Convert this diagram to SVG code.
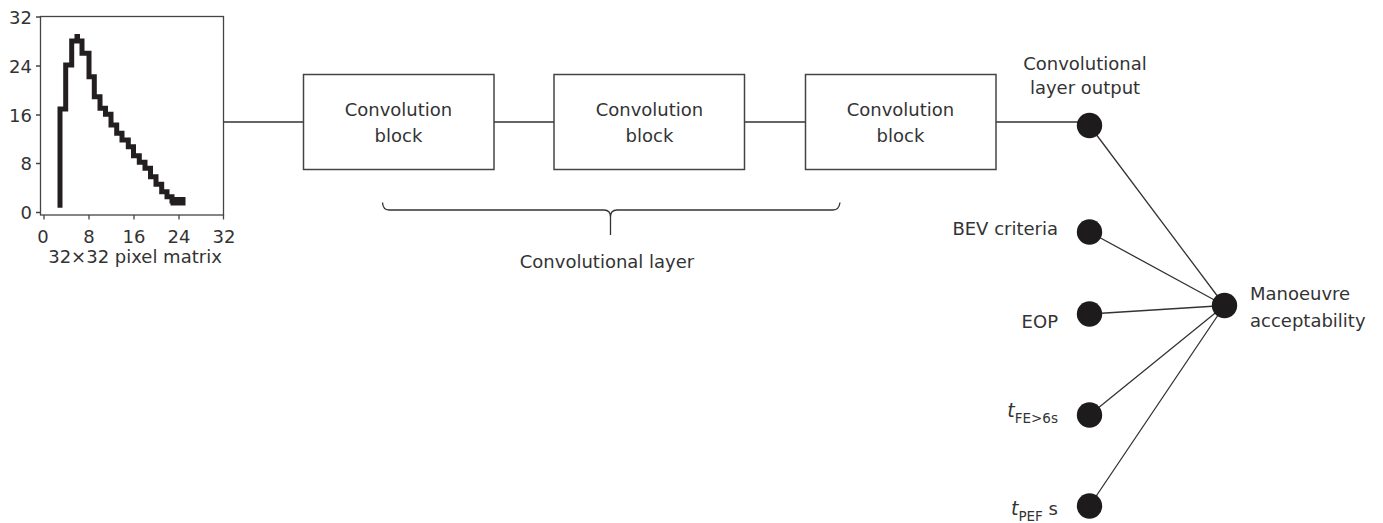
<svg xmlns="http://www.w3.org/2000/svg" width="1383" height="523" viewBox="0 0 1383 523">
<style>
text{font-family:"DejaVu Sans","Liberation Sans",sans-serif;font-size:18px;fill:#333}
.m{text-anchor:middle}
.e{text-anchor:end}
.ax{fill:none;stroke:#444;stroke-width:1.3}
.box{fill:#fff;stroke:#444;stroke-width:1.5}
.ln{fill:none;stroke:#333;stroke-width:1.3}
.nd{fill:#1e1b1c}
.sub{font-size:13.5px}
</style>
<g id="plot">
<rect class="ax" x="40.5" y="16.5" width="183" height="198.5"/>
<path class="ax" d="M36,212.5H40.5M36,163.5H40.5M36,115H40.5M36,66H40.5M36,17H40.5M44,215V219.5M89,215V219.5M134,215V219.5M179,215V219.5M223.5,215V219.5"/>
<text class="e" x="32" y="219">0</text>
<text class="e" x="32" y="170">8</text>
<text class="e" x="32" y="121.5">16</text>
<text class="e" x="32" y="72.5">24</text>
<text class="e" x="32" y="23.5">32</text>
<text class="m" x="43" y="243">0</text>
<text class="m" x="89" y="243">8</text>
<text class="m" x="134" y="243">16</text>
<text class="m" x="179" y="243">24</text>
<text class="m" x="224" y="243">32</text>
<text class="m" x="135" y="263">32×32 pixel matrix</text>
<path fill="none" stroke="#231f20" stroke-width="5" stroke-linejoin="miter" d="M60,207.7V109H65.7V65H71.7V41H82V53.3H89V76.7H94.3V96.7H100V108.3H105.5V114.3H111V125H116.7V133.3H122V140H128.3V146.7H133.5V155.7H139.3V162.3H145V168.3H150.5V176.7H156V184.3H161.7V191.7H167V196.7H172V201H184"/>
<rect x="74.5" y="34" width="5.5" height="6" fill="#231f20"/>
<rect x="170.5" y="197" width="15" height="8.5" fill="#231f20"/>
</g>
<g id="connectors">
<path class="ln" d="M223.5,122H303.5M494,122H554M745,122H805.5M996,122H1089"/>
<path class="ln" d="M1089.5,125.5L1224.5,305.5M1089.5,232L1224.5,305.5M1089.5,314L1224.5,305.5M1089.5,415L1224.5,305.5M1089.5,506L1224.5,305.5"/>
</g>
<g id="block1">
<rect class="box" x="303.5" y="74.5" width="190.5" height="95"/>
<text class="m" x="398.5" y="116">Convolution</text>
<text class="m" x="398.5" y="141.5">block</text>
</g>
<g id="block2">
<rect class="box" x="554" y="74.5" width="190.5" height="95"/>
<text class="m" x="649.5" y="116">Convolution</text>
<text class="m" x="649.5" y="141.5">block</text>
</g>
<g id="block3">
<rect class="box" x="805.5" y="74.5" width="190.5" height="95"/>
<text class="m" x="900.5" y="116">Convolution</text>
<text class="m" x="900.5" y="141.5">block</text>
</g>
<g id="brace">
<path class="ln" d="M382.5,202.5Q383,210 389,210H604Q610.5,210 610.5,217V235M610.5,217Q610.5,210 617,210H833Q839,210 840,202.5"/>
<text class="m" x="607" y="268">Convolutional layer</text>
</g>
<g id="node-conv-output">
<circle class="nd" cx="1089.5" cy="125.5" r="12.7"/>
<text class="m" x="1085" y="70">Convolutional</text>
<text class="m" x="1085" y="94">layer output</text>
</g>
<g id="node-bev">
<circle class="nd" cx="1089.5" cy="232" r="12.7"/>
<text class="e" x="1058" y="235">BEV criteria</text>
</g>
<g id="node-eop">
<circle class="nd" cx="1089.5" cy="314" r="12.7"/>
<text class="e" x="1058" y="328">EOP</text>
</g>
<g id="node-tfe">
<circle class="nd" cx="1089.5" cy="415" r="12.7"/>
<text class="e" x="1058" y="417"><tspan font-style="italic" font-size="19">t</tspan><tspan class="sub" dy="6">FE&gt;6s</tspan></text>
</g>
<g id="node-tpef">
<circle class="nd" cx="1089.5" cy="506" r="12.7"/>
<text class="e" x="1058" y="515"><tspan font-style="italic" font-size="19">t</tspan><tspan class="sub" dy="6">PEF</tspan><tspan dy="-6"> s</tspan></text>
</g>
<g id="node-manoeuvre">
<circle class="nd" cx="1224.5" cy="305.5" r="12.7"/>
<text x="1250" y="300">Manoeuvre</text>
<text x="1250" y="326.5">acceptability</text>
</g>
</svg>
